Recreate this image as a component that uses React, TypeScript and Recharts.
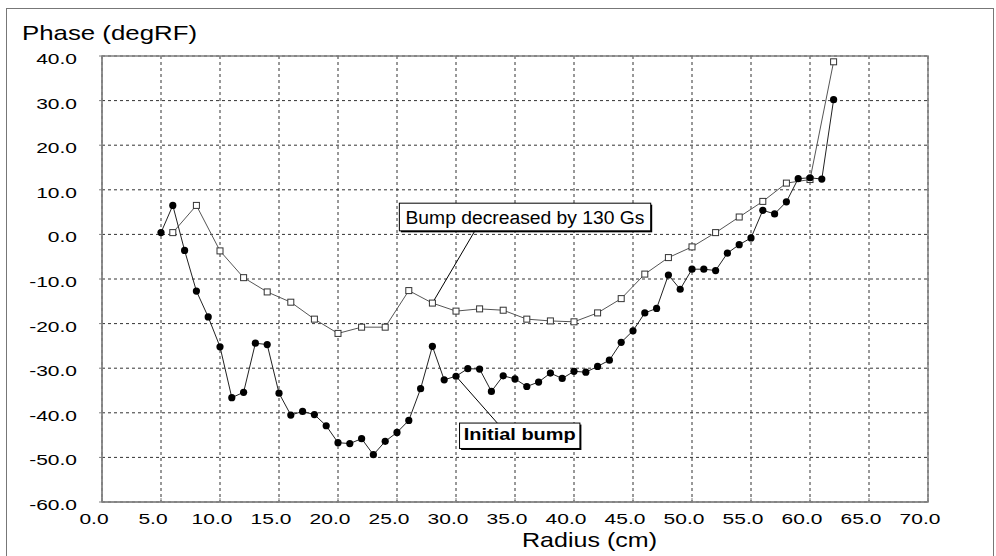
import React from "react";
import {
  LineChart,
  Line,
  XAxis,
  YAxis,
  CartesianGrid,
  ReferenceArea,
  ReferenceLine,
} from "recharts";

// Initial bump (filled circles)
const radiusInitial = [
  5, 6, 7, 8, 9, 10, 11, 12, 13, 14, 15, 16, 17, 18, 19, 20, 21, 22, 23, 24, 25, 26, 27, 28, 29,
  30, 31, 32, 33, 34, 35, 36, 37, 38, 39, 40, 41, 42, 43, 44, 45, 46, 47, 48, 49, 50, 51, 52, 53,
  54, 55, 56, 57, 58, 59, 60, 61, 62,
];
const phaseInitial = [
  0.4, 6.5, -3.6, -12.7, -18.5, -25.2, -36.6, -35.4, -24.4, -24.7, -35.6, -40.5, -39.7, -40.4,
  -42.9, -46.7, -46.9, -45.8, -49.4, -46.4, -44.4, -41.7, -34.6, -25.1, -32.6, -31.8, -30.1,
  -30.2, -35.2, -31.7, -32.4, -34.1, -33.1, -31.1, -32.3, -30.7, -30.9, -29.6, -28.2, -24.2,
  -21.6, -17.6, -16.6, -9.1, -12.3, -7.8, -7.8, -8.1, -4.2, -2.3, -0.8, 5.4, 4.6, 7.3, 12.5,
  12.7, 12.4, 30.2,
];

// Bump decreased by 130 Gs (open squares)
const radiusDecreased = [
  6, 8, 10, 12, 14, 16, 18, 20, 22, 24, 26, 28, 30, 32, 34, 36, 38, 40, 42, 44, 46, 48, 50, 52,
  54, 56, 58, 60, 62,
];
const phaseDecreased = [
  0.4, 6.5, -3.7, -9.7, -12.9, -15.2, -19.0, -22.2, -20.8, -20.8, -12.6, -15.4, -17.2, -16.7,
  -17.0, -19.0, -19.4, -19.6, -17.6, -14.4, -8.9, -5.2, -2.8, 0.4, 3.9, 7.4, 11.5, 12.3, 38.7,
];

const xTicks = [0, 5, 10, 15, 20, 25, 30, 35, 40, 45, 50, 55, 60, 65, 70];
const yTicks = [-60, -50, -40, -30, -20, -10, 0, 10, 20, 30, 40];

const FONT = "'Liberation Sans', Arial, sans-serif";

const initialData = radiusInitial.map((r, i) => ({ r, phase: phaseInitial[i] }));
const decreasedData = radiusDecreased.map((r, i) => ({ r, phase: phaseDecreased[i] }));

function YTick({ x, y, payload }: any) {
  return (
    <g transform={`translate(${x}, ${y + 8})`}>
      <text transform="scale(1.4,1)" textAnchor="end" fontSize={15} fontFamily={FONT} fill="#000">
        {Number(payload.value).toFixed(1)}
      </text>
    </g>
  );
}

function XTick({ x, y, payload }: any) {
  return (
    <g transform={`translate(${x - 8}, ${y})`}>
      <text transform="scale(1.4,1)" textAnchor="middle" fontSize={15} fontFamily={FONT} fill="#000">
        {Number(payload.value).toFixed(1)}
      </text>
    </g>
  );
}

function CircleDot({ cx, cy, index }: any) {
  return <circle key={`c${index}`} cx={cx} cy={cy} r={3.6} fill="#000" />;
}

function SquareDot({ cx, cy, index }: any) {
  return (
    <rect key={`s${index}`} x={cx - 3} y={cy - 3} width={6} height={6} fill="#fff" stroke="#333" strokeWidth={1} />
  );
}

function boxLabel(text: string, fontSize: number, bold: boolean, width: number, baseline: number) {
  return ({ viewBox }: any) => {
    const { x, y, width: w, height: h } = viewBox;
    return (
      <g>
        <rect x={x + 1.5} y={y + 1.5} width={w} height={h} fill="#000" />
        <rect x={x} y={y} width={w} height={h} fill="#fff" stroke="#000" strokeWidth={1} />
        <text
          x={x + w / 2}
          y={y + baseline}
          textAnchor="middle"
          fontSize={fontSize}
          fontWeight={bold ? "bold" : "normal"}
          fontFamily={FONT}
          textLength={width}
          lengthAdjust="spacingAndGlyphs"
          fill="#000"
        >
          {text}
        </text>
      </g>
    );
  };
}

export default function App() {
  return (
    <div style={{ position: "absolute", left: 0, top: 0, width: 996, height: 556, background: "#fff", overflow: "hidden" }}>
      <div
        style={{
          position: "absolute",
          left: 6,
          top: 8,
          width: 986,
          height: 570,
          border: "1.5px solid #777",
        }}
      />
      <LineChart width={996} height={556} margin={{ top: 56, right: 68, bottom: 24, left: 41 }}>
        <CartesianGrid stroke="#333" strokeDasharray="3 3" strokeWidth={1} />
        <XAxis
          type="number"
          dataKey="r"
          domain={[0, 70]}
          ticks={xTicks}
          allowDataOverflow
          height={30}
          stroke="#808080"
          tickSize={-4}
          tickMargin={26}
          tick={<XTick />}
        />
        <YAxis
          type="number"
          dataKey="phase"
          domain={[-60, 40]}
          ticks={yTicks}
          allowDataOverflow
          width={61}
          stroke="#808080"
          tickSize={3}
          tickMargin={22}
          tick={<YTick />}
        />
        <ReferenceArea x1={0} x2={70} y1={-60} y2={40} fill="none" stroke="#808080" strokeWidth={1.5} />
        <Line
          data={decreasedData}
          dataKey="phase"
          stroke="#555"
          strokeWidth={1}
          dot={<SquareDot />}
          isAnimationActive={false}
        />
        <Line
          data={initialData}
          dataKey="phase"
          stroke="#222"
          strokeWidth={1}
          dot={<CircleDot />}
          isAnimationActive={false}
        />
        <ReferenceLine
          segment={[
            { x: radiusDecreased[11], y: phaseDecreased[11] },
            { x: 31.6, y: 0.8 },
          ]}
          stroke="#000"
          strokeWidth={1}
        />
        <ReferenceLine
          segment={[
            { x: radiusInitial[25], y: phaseInitial[25] },
            { x: 33.5, y: -42.3 },
          ]}
          stroke="#000"
          strokeWidth={1}
        />
        <ReferenceArea
          x1={25.2}
          x2={46.5}
          y1={0.8}
          y2={7.0}
          fill="none"
          stroke="none"
          label={boxLabel("Bump decreased by 130 Gs", 18, false, 239, 20.5)}
        />
        <ReferenceArea
          x1={30.3}
          x2={40.5}
          y1={-48.0}
          y2={-42.3}
          fill="none"
          stroke="none"
          label={boxLabel("Initial bump", 17, true, 112, 17)}
        />
      </LineChart>
      <svg width={996} height={556} style={{ position: "absolute", left: 0, top: 0, pointerEvents: "none" }}>
        <text x={22} y={40} fontSize={21} fontFamily={FONT} textLength={175} lengthAdjust="spacingAndGlyphs" fill="#000">
          Phase (degRF)
        </text>
        <text x={522} y={547} fontSize={21} fontFamily={FONT} textLength={135} lengthAdjust="spacingAndGlyphs" fill="#000">
          Radius (cm)
        </text>
      </svg>
    </div>
  );
}
